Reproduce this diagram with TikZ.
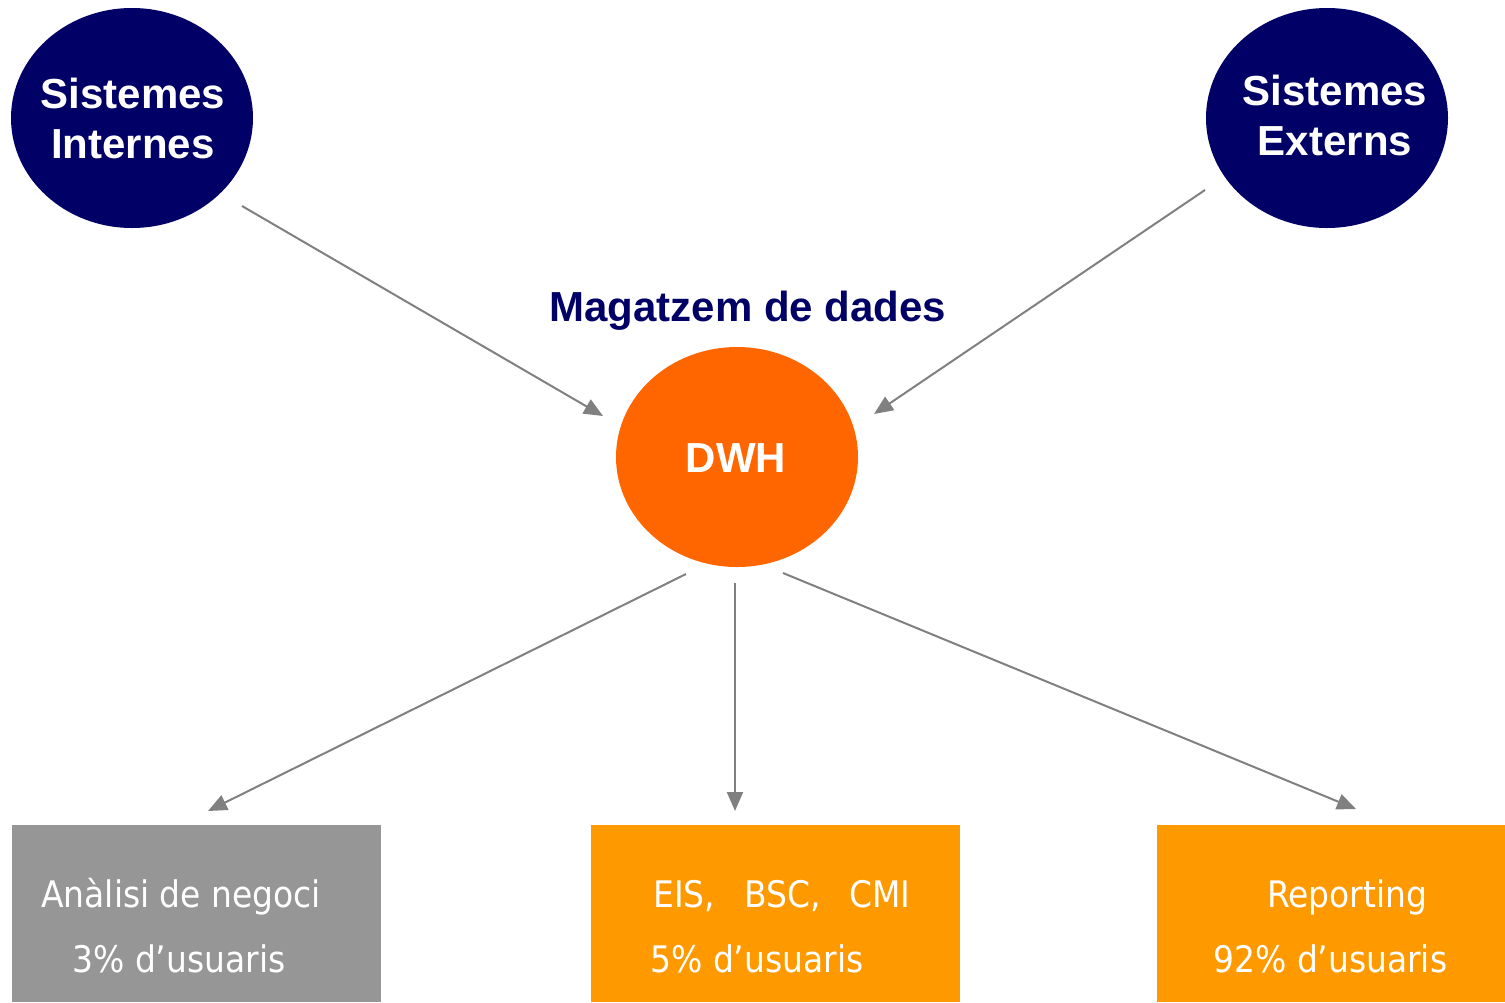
\documentclass[tikz,border=0pt]{standalone}
\usepackage{fontspec}
\setmainfont{Liberation Sans}
\newfontfamily\boxfont{DejaVu Sans Condensed}
\usetikzlibrary{shapes.geometric,arrows.meta}
\definecolor{navy}{HTML}{000066}
\definecolor{dwhorange}{HTML}{FF6600}
\definecolor{boxorange}{HTML}{FF9900}
\definecolor{boxgray}{HTML}{969696}
\definecolor{arrowgray}{HTML}{808080}
\tikzset{
  bigbold/.style={font=\fontsize{21pt}{25pt}\selectfont\bfseries},
  srcnode/.style={ellipse, fill=navy, minimum width=121pt, minimum height=110pt, inner sep=0pt},
  srctext/.style={text=white, align=center, inner sep=0pt, bigbold},
  dwhnode/.style={ellipse, fill=dwhorange, minimum width=121pt, minimum height=110pt, inner sep=0pt},
  outbox/.style={rectangle, minimum width=184.5pt, minimum height=88.5pt, inner sep=0pt, anchor=north west},
  boxtext/.style={anchor=base west, inner sep=0pt, text=white, font=\boxfont\fontsize{18.3pt}{22pt}\selectfont},
  conn/.style={draw=arrowgray, line width=1pt, -{Triangle[length=9.5pt,width=8pt]}}
}
\begin{document}
\begin{tikzpicture}[x=0.5pt,y=-0.5pt]
\useasboundingbox (0,0) rectangle (1505,1002);
% source systems
\node[srcnode] (int) at (132,118) {};
\node[srctext] (intt) at (133,118) {Sistemes\\Internes};
\node[srcnode] (ext) at (1327,118) {};
\node[srctext] (extt) at (1335,115) {Sistemes\\Externs};
% data warehouse
\node[anchor=base, inner sep=0pt, text=navy, bigbold] (mag) at (748,321) {Magatzem de dades};
\node[dwhnode] (dwh) at (737,457) {};
\node[text=white, inner sep=0pt, bigbold] (dwht) at (736,458) {DWH};
% output boxes
\node[outbox, fill=boxgray] (b1) at (12,825) {};
\node[outbox, fill=boxorange] (b2) at (591,825) {};
\node[outbox, fill=boxorange, minimum width=174pt] (b3) at (1157,825) {};
\node[boxtext] (t1a) at (41,907) {Anàlisi de negoci};
\node[boxtext] (t1b) at (72,972) {3\% d’usuaris};
\node[boxtext] (t2a) at (653,907) {EIS,\ \ \hspace{4pt}BSC,\ \ \hspace{4pt}CMI};
\node[boxtext] (t2b) at (650,972) {5\% d’usuaris};
\node[boxtext] (t3a) at (1267,907) {Reporting};
\node[boxtext] (t3b) at (1213,972) {92\% d’usuaris};
% connector end points
\coordinate (a1s) at (242,206);
\coordinate (a1e) at (603,416);
\coordinate (a2s) at (1205,190);
\coordinate (a2e) at (874,414);
\coordinate (a3s) at (686,574);
\coordinate (a3e) at (208,811);
\coordinate (a4s) at (735,583);
\coordinate (a4e) at (735,811);
\coordinate (a5s) at (783,573);
\coordinate (a5e) at (1356,809);
\draw[conn] (a1s) -- (a1e);
\draw[conn] (a2s) -- (a2e);
\draw[conn] (a3s) -- (a3e);
\draw[conn] (a4s) -- (a4e);
\draw[conn] (a5s) -- (a5e);
\end{tikzpicture}
\end{document}
